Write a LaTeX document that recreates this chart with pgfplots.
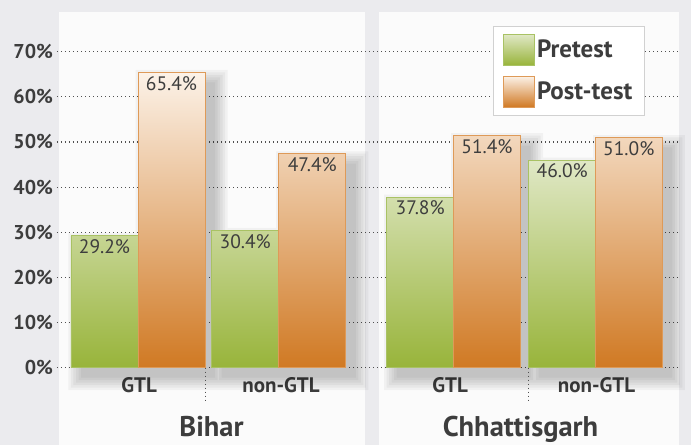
\documentclass[border=0pt]{standalone}
\usepackage{pgfplots}
\pgfplotsset{compat=1.18}
\usepackage{fontspec}
\setmainfont{PT Sans}

\definecolor{bg}{HTML}{EBEBEE}
\definecolor{panel}{HTML}{FBFBFB}
\definecolor{pretop}{HTML}{E0E8C6}
\definecolor{prebot}{HTML}{98B43A}
\definecolor{preedge}{HTML}{A9C264}
\definecolor{posttop}{HTML}{FCF2E8}
\definecolor{postbot}{HTML}{D07923}
\definecolor{postedge}{HTML}{DE9A58}
\definecolor{txt}{HTML}{3D3D3D}
\definecolor{gridc}{HTML}{505050}

\pgfplotsset{
  shadowlayer/.style={forget plot, draw=none, fill=black, fill opacity=0.04, unbounded coords=jump, mark=none},
  valuelabels/.style={
    nodes near coords={\pgfmathprintnumber[fixed,fixed zerofill,precision=1]{\pgfplotspointmeta}\%},
    every node near coord/.append style={anchor=north, font=\fontsize{19.5}{19.5}\selectfont, text=txt, yshift=0pt},
  },
}

\begin{document}
\begin{tikzpicture}
\path[use as bounding box] (0pt,0pt) rectangle (691pt,445pt);
\clip (0pt,0pt) rectangle (691pt,445pt);
\fill[bg] (0pt,0pt) rectangle (691pt,445pt);
\fill[panel] (59pt,0pt) rectangle (365pt,433pt);
\fill[panel] (379pt,0pt) rectangle (679pt,433pt);
\begin{axis}[
  at={(57pt,77.3pt)}, anchor=south west,
  scale only axis, width=623pt, height=355.7pt,
  xmin=57, xmax=680, ymin=0, ymax=78.8,
  clip=false,
  axis line style={draw=none},
  major tick length=0pt,
  /pgf/number format/assume math mode=true,
  ytick={0,10,20,30,40,50,60,70},
  yticklabels={0\%,10\%,20\%,30\%,40\%,50\%,60\%,70\%},
  yticklabel style={font=\fontsize{20}{20}\selectfont\bfseries, text=txt, xshift=-0.5pt},
  ymajorgrids,
  grid style={color=gridc, line width=1.2pt, dash pattern=on 1.2pt off 2.8pt},
  xtick={139.2,281,450.2,596.5},
  xticklabels={GTL,non-GTL,GTL,non-GTL},
  xticklabel style={anchor=base, yshift=-25pt, font=\fontsize{21}{21}\selectfont\bfseries, text=txt},
  bar width=67,
  legend style={at={(axis cs:493,75.76)}, anchor=north west, draw=black!18, fill=white,
    font=\fontsize{25}{25}\selectfont\bfseries, text=txt, row sep=10pt, inner xsep=10pt, inner ysep=8pt},
  legend cell align=left,
  legend image code/.code={\draw[#1] (0pt,-15.5pt) rectangle (31pt,15.5pt);},
]
% soft drop shadows (expanding layers)
\addplot[shadowlayer] coordinates {
 (81,-2.22)(81,26.99)(148,26.99)(148,63.19)(215,63.19)(215,-2.22) (nan,nan)
 (221.7,-2.22)(221.7,28.19)(288.7,28.19)(288.7,45.19)(355.8,45.19)(355.8,-2.22) (nan,nan)
 (396.7,-2.22)(396.7,35.59)(463.7,35.59)(463.7,49.19)(530.5,49.19)(530.5,-2.22) (nan,nan)
 (538.7,-2.22)(538.7,43.79)(605.7,43.79)(605.7,48.79)(672.3,48.79)(672.3,-2.22)};
\addplot[shadowlayer] coordinates {
 (78.5,-2.77)(78.5,27.54)(145.5,27.54)(145.5,63.74)(217.5,63.74)(217.5,-2.77) (nan,nan)
 (219.2,-2.77)(219.2,28.74)(286.2,28.74)(286.2,45.74)(358.3,45.74)(358.3,-2.77) (nan,nan)
 (394.2,-2.77)(394.2,36.14)(461.2,36.14)(461.2,49.74)(533,49.74)(533,-2.77) (nan,nan)
 (536.2,-2.77)(536.2,44.34)(603.2,44.34)(603.2,49.34)(674.8,49.34)(674.8,-2.77)};
\addplot[shadowlayer] coordinates {
 (76,-3.32)(76,28.09)(143,28.09)(143,64.29)(220,64.29)(220,-3.32) (nan,nan)
 (216.7,-3.32)(216.7,29.29)(283.7,29.29)(283.7,46.29)(360.8,46.29)(360.8,-3.32) (nan,nan)
 (391.7,-3.32)(391.7,36.69)(458.7,36.69)(458.7,50.29)(535.5,50.29)(535.5,-3.32) (nan,nan)
 (533.7,-3.32)(533.7,44.89)(600.7,44.89)(600.7,49.89)(677.3,49.89)(677.3,-3.32)};
\addplot[shadowlayer] coordinates {
 (73.5,-3.88)(73.5,28.65)(140.5,28.65)(140.5,64.85)(222.5,64.85)(222.5,-3.88) (nan,nan)
 (214.2,-3.88)(214.2,29.85)(281.2,29.85)(281.2,46.85)(363.3,46.85)(363.3,-3.88) (nan,nan)
 (389.2,-3.88)(389.2,37.25)(456.2,37.25)(456.2,50.85)(538,50.85)(538,-3.88) (nan,nan)
 (531.2,-3.88)(531.2,45.45)(598.2,45.45)(598.2,50.45)(679.8,50.45)(679.8,-3.88)};
\addplot[shadowlayer] coordinates {
 (71,-4.43)(71,29.2)(138,29.2)(138,65.4)(225,65.4)(225,-4.43) (nan,nan)
 (211.7,-4.43)(211.7,30.4)(278.7,30.4)(278.7,47.4)(365.8,47.4)(365.8,-4.43) (nan,nan)
 (386.7,-4.43)(386.7,37.8)(453.7,37.8)(453.7,51.4)(540.5,51.4)(540.5,-4.43) (nan,nan)
 (528.7,-4.43)(528.7,46.0)(595.7,46.0)(595.7,51.0)(682.3,51.0)(682.3,-4.43)};
\addplot[shadowlayer] coordinates {
 (68.5,-4.98)(68.5,29.75)(135.5,29.75)(135.5,65.95)(227.5,65.95)(227.5,-4.98) (nan,nan)
 (209.2,-4.98)(209.2,30.95)(276.2,30.95)(276.2,47.95)(368.3,47.95)(368.3,-4.98) (nan,nan)
 (384.2,-4.98)(384.2,38.35)(451.2,38.35)(451.2,51.95)(543,51.95)(543,-4.98) (nan,nan)
 (526.2,-4.98)(526.2,46.55)(593.2,46.55)(593.2,51.55)(684.8,51.55)(684.8,-4.98)};
% bars
\addplot[ybar, bar shift=0pt, draw=preedge, line width=0.8pt, top color=pretop, bottom color=prebot, valuelabels]
  coordinates {(104.5,29.2) (245.2,30.4) (420.2,37.8) (562.2,46.0)};
\addlegendentry{Pretest}
\addplot[ybar, bar shift=0pt, draw=postedge, line width=0.8pt, top color=posttop, bottom color=postbot, valuelabels]
  coordinates {(171.5,65.4) (312.3,47.4) (487,51.4) (628.8,51.0)};
\addlegendentry{Post-test}
\end{axis}
\draw[color=gridc, line width=1.2pt, dash pattern=on 1.2pt off 2.8pt] (205.7pt,77.3pt) -- (205.7pt,45pt);
\draw[color=gridc, line width=1.2pt, dash pattern=on 1.2pt off 2.8pt] (528.3pt,77.3pt) -- (528.3pt,45pt);
\node[anchor=base, font=\fontsize{28.5}{28.5}\selectfont\bfseries, text=txt, inner sep=0pt] at (211.5pt,9pt) {Bihar};
\node[anchor=base, font=\fontsize{28.5}{28.5}\selectfont\bfseries, text=txt, inner sep=0pt] at (520.5pt,9pt) {Chhattisgarh};
\end{tikzpicture}
\end{document}
